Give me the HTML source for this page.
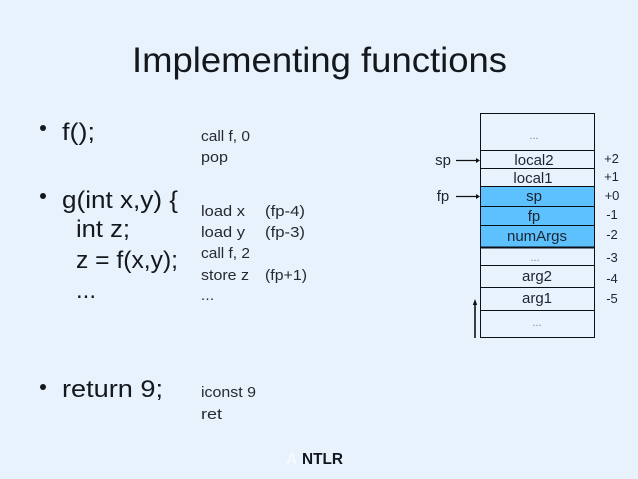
<!DOCTYPE html>
<html><head><meta charset="utf-8"><style>
html,body{margin:0;padding:0;background:#e8f2fd}
svg{display:block}
text{font-family:"Liberation Sans",sans-serif}
.h{font-size:35px;fill:#14171c}
.t{font-size:24px;fill:#14171c}
.c{font-size:14.5px;fill:#262a30}
.s{font-size:15px;fill:#1c2430;text-anchor:middle}
.l{font-size:15px;fill:#1c2430;text-anchor:middle}
.n{font-size:13px;fill:#1c2430;text-anchor:middle}
.d{font-size:11px;fill:#7a8290;text-anchor:middle}
.a{font-size:15.5px;font-weight:bold;fill:#f6faff}
.b{font-size:15.5px;font-weight:bold;fill:#10151f}
</style></head><body>
<svg width="638" height="479" viewBox="0 0 638 479" xmlns="http://www.w3.org/2000/svg">
<rect width="638" height="479" fill="#e8f2fd"/>
<text class="h" x="132" y="72" textLength="375" lengthAdjust="spacingAndGlyphs">Implementing functions</text>

<circle cx="43" cy="128" r="3" fill="#14171c"/>
<circle cx="43" cy="196" r="3" fill="#14171c"/>
<circle cx="43" cy="387" r="3" fill="#14171c"/>
<text class="t" x="62" y="140" textLength="33" lengthAdjust="spacingAndGlyphs">f();</text>
<text class="t" x="62" y="208" textLength="116" lengthAdjust="spacingAndGlyphs">g(int x,y) {</text>
<text class="t" x="76" y="237" textLength="54" lengthAdjust="spacingAndGlyphs">int z;</text>
<text class="t" x="76" y="268" textLength="102" lengthAdjust="spacingAndGlyphs">z = f(x,y);</text>
<text class="t" x="76" y="298" textLength="20" lengthAdjust="spacing">...</text>
<text class="t" x="62" y="397" textLength="101" lengthAdjust="spacingAndGlyphs">return 9;</text>

<text class="c" x="201" y="141" textLength="49" lengthAdjust="spacingAndGlyphs">call f, 0</text>
<text class="c" x="201" y="162" textLength="27" lengthAdjust="spacingAndGlyphs">pop</text>
<text class="c" x="201" y="216" textLength="44" lengthAdjust="spacingAndGlyphs">load x</text>
<text class="c" x="265" y="216" textLength="40" lengthAdjust="spacingAndGlyphs">(fp-4)</text>
<text class="c" x="201" y="237" textLength="44" lengthAdjust="spacingAndGlyphs">load y</text>
<text class="c" x="265" y="237" textLength="40" lengthAdjust="spacingAndGlyphs">(fp-3)</text>
<text class="c" x="201" y="258" textLength="49" lengthAdjust="spacingAndGlyphs">call f, 2</text>
<text class="c" x="201" y="280" textLength="48" lengthAdjust="spacingAndGlyphs">store z</text>
<text class="c" x="265" y="280" textLength="42" lengthAdjust="spacingAndGlyphs">(fp+1)</text>
<text class="c" x="201" y="300" textLength="13" lengthAdjust="spacing">...</text>
<text class="c" x="201" y="397" textLength="55" lengthAdjust="spacingAndGlyphs">iconst 9</text>
<text class="c" x="201" y="419" textLength="21" lengthAdjust="spacingAndGlyphs">ret</text>

<rect x="480.5" y="186.5" width="114" height="61" fill="#5cc1fd"/>
<g stroke="#0a0f18" fill="none">
<rect x="480.5" y="113.5" width="114" height="224"/>
<path d="M480 150.5H595M480 168.5H595M480 186.5H595M480 206.5H595M480 225.5H595M480 265.5H595M480 287.5H595M480 310.5H595"/>
<path d="M480 247.5H595" stroke-width="2"/>
</g>

<text class="d" x="534" y="139">...</text>
<text class="s" x="534" y="165">local2</text>
<text class="s" x="533" y="183">local1</text>
<text class="s" x="534" y="201">sp</text>
<text class="s" x="534" y="221">fp</text>
<text class="s" x="537" y="241">numArgs</text>
<text class="d" x="535" y="261">...</text>
<text class="s" x="537" y="281">arg2</text>
<text class="s" x="537" y="303">arg1</text>
<text class="d" x="537" y="326">...</text>

<text class="n" x="611.5" y="163">+2</text>
<text class="n" x="611.5" y="181">+1</text>
<text class="n" x="612" y="200">+0</text>
<text class="n" x="612" y="219">-1</text>
<text class="n" x="612" y="239">-2</text>
<text class="n" x="612" y="262">-3</text>
<text class="n" x="612" y="283">-4</text>
<text class="n" x="612" y="303">-5</text>

<text class="l" x="443" y="165">sp</text>
<text class="l" x="443" y="201">fp</text>
<path d="M456 160.5H477M456 196.5H477" stroke="#111" stroke-width="1.2" fill="none"/>
<path d="M480 160.5l-4-2.5v5zM480 196.5l-4-2.5v5z" fill="#111"/>
<path d="M475 338V304" stroke="#111" stroke-width="1.6" fill="none"/>
<path d="M475 299l-2.2 6h4.4z" fill="#111"/>

<text class="a" x="286" y="464">A</text>
<text class="b" x="302" y="464" textLength="41" lengthAdjust="spacingAndGlyphs">NTLR</text>
</svg>
</body></html>
